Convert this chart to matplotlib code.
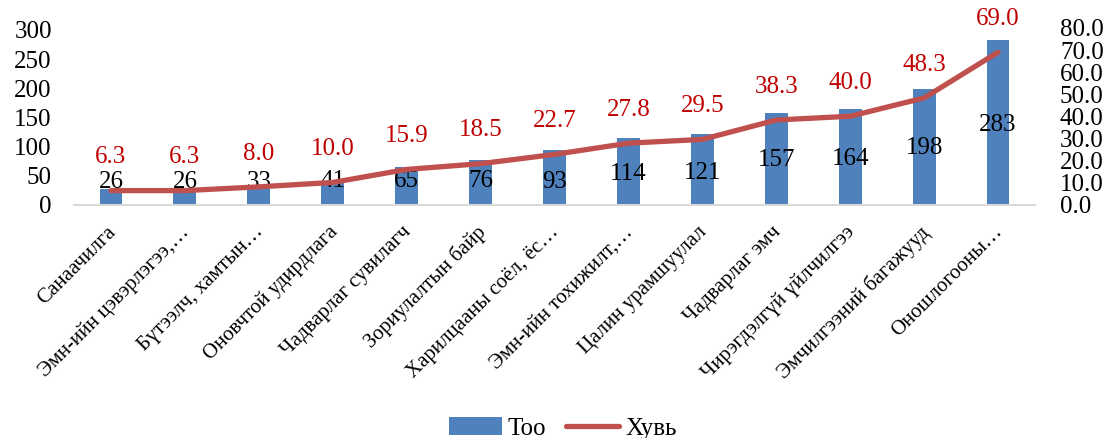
import numpy as np
import matplotlib.pyplot as plt
import matplotlib.transforms as mtransforms

# categories and values
categories = ["Санаачилга", "Эмн-ийн цэвэрлэгээ,…", "Бүтээлч, хамтын…",
              "Оновчтой удирдлага", "Чадварлаг сувилагч", "Зориулалтын байр",
              "Харилцааны соёл, ёс…", "Эмн-ийн тохижилт,…", "Цалин урамшуулал",
              "Чадварлаг эмч", "Чирэгдэлгүй үйлчилгээ", "Эмчилгээний багажууд",
              "Оношлогооны…"]
too = [26, 26, 33, 41, 65, 76, 93, 114, 121, 157, 164, 198, 283]
huvi = [6.3, 6.3, 8.0, 10.0, 15.9, 18.5, 22.7, 27.8, 29.5, 38.3, 40.0, 48.3, 69.0]
# where the count labels sit (left-axis units)
too_label_y = [38, 38, 38, 41, 41, 41, 38, 53, 55, 76, 79, 97, 136]

plt.rcParams['font.family'] = ['Liberation Serif', 'DejaVu Serif']

blue = '#4F81BD'
red = '#C0504D'

fig = plt.figure(figsize=(11.1, 4.38), dpi=100)
ax = fig.add_axes([0.0667, 0.5331, 0.8657, 0.403])
ax2 = ax.twinx()

x = np.arange(len(categories))
ax.bar(x, too, width=0.31, color=blue, zorder=2, label='Тоо')
ax2.plot(x, huvi, color=red, lw=3.8, solid_capstyle='round', zorder=3, label='Хувь')

ax.set_xlim(-0.5, len(categories) - 0.5)
ax.set_ylim(0, 303.4)
ax.set_yticks(np.arange(0, 301, 50))
ax2.set_ylim(0, 80)
ax2.set_yticks(np.arange(0, 81, 10))
ax2.set_yticklabels([f"{v:.1f}" for v in np.arange(0, 81, 10)])

for a in (ax, ax2):
    for s in a.spines.values():
        s.set_visible(False)
ax.spines['bottom'].set_visible(True)
ax.spines['bottom'].set_color('#D9D9D9')
ax.spines['bottom'].set_linewidth(1.5)

ax.tick_params(axis='y', length=0, labelsize=18, pad=16)
ax2.tick_params(axis='y', length=0, labelsize=18, pad=18)
ax.tick_params(axis='x', length=0, pad=13)
ax.set_xticks(x)
ax.set_xticklabels(categories, rotation=45, ha='right', rotation_mode='anchor',
                   fontsize=15)
shift = mtransforms.ScaledTranslation(-5 / 100, 0, fig.dpi_scale_trans)
for lbl in ax.get_xticklabels():
    lbl.set_transform(lbl.get_transform() + shift)

ax.set_zorder(ax2.get_zorder() - 1)
ax2.patch.set_visible(False)

# count labels on the bars
for xi, v, ly in zip(x, too, too_label_y):
    ax.text(xi, ly, str(v), ha='center', va='center', fontsize=18, color='black')

# percentage labels above the line
for xi, v in zip(x, huvi):
    ax2.annotate(f"{v:.1f}", (xi, v), xytext=(0, 24), textcoords='offset points',
                 ha='center', va='center', fontsize=18, color='#C00000')

h1, l1 = ax.get_legend_handles_labels()
h2, l2 = ax2.get_legend_handles_labels()
fig.legend(h1 + h2, l1 + l2, loc='lower center', bbox_to_anchor=(0.507, -0.055),
           ncol=2, frameon=False, fontsize=18, handlelength=2.1,
           columnspacing=0.8, handletextpad=0.25)

fig.savefig('out.png', dpi=100)
